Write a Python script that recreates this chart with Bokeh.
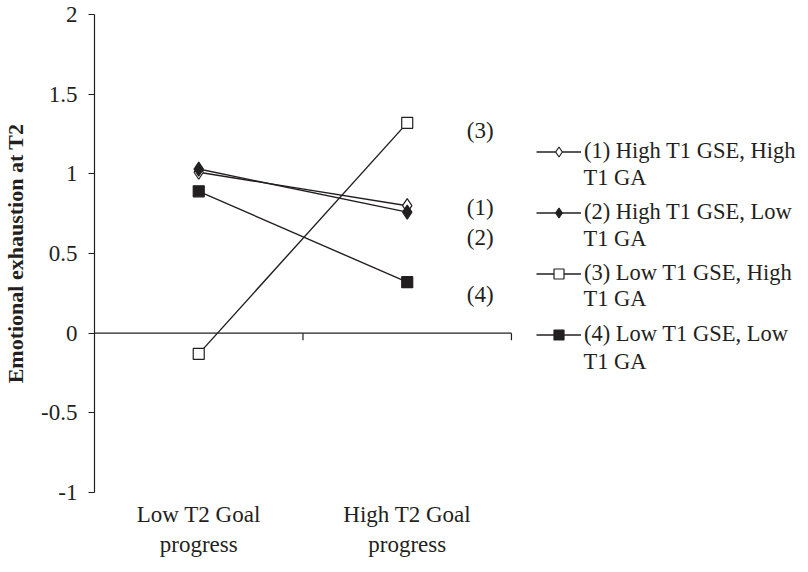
from bokeh.plotting import figure
from bokeh.models import Range1d, FixedTicker, Legend, LegendItem, ColumnDataSource
from bokeh.core.properties import value
from bokeh.embed import file_html
from bokeh.resources import INLINE

# ---- data ----
categories = ["Low T2 Goal\nprogress", "High T2 Goal\nprogress"]
cat_x = [0.5, 1.5]
series_names = ["(1) High T1 GSE, High", "(2) High T1 GSE, Low",
                "(3) Low T1 GSE, High", "(4) Low T1 GSE, Low"]
series_names_cont = ["T1 GA", "T1 GA", "T1 GA", "T1 GA"]
s1 = [1.01, 0.80]
s2 = [1.03, 0.76]
s3 = [-0.13, 1.32]
s4 = [0.89, 0.32]
end_labels = ["(3)", "(1)", "(2)", "(4)"]
end_label_y = [1.27, 0.79, 0.60, 0.24]
end_label_x = [1.85, 1.85, 1.85, 1.85]
y_ticks = [-1, -0.5, 0, 0.5, 1, 1.5, 2]
y_tick_labels = ["-1", "-0.5", "0", "0.5", "1", "1.5", "2"]
boundaries = [0, 1, 2]

INK = "#231f20"
FONT = "Liberation Serif"

p = figure(frame_width=708, frame_height=478, output_backend="svg", toolbar_location=None,
           x_range=Range1d(0, 3.396), y_range=Range1d(-1, 2),
           min_border_left=94, min_border_top=14, min_border_bottom=58, min_border_right=0)
p.outline_line_color = None
p.xgrid.visible = False
p.ygrid.visible = False
p.background_fill_color = "white"

# y axis
ya = p.yaxis[0]
ya.ticker = FixedTicker(ticks=y_ticks)
ya.major_label_overrides = {t: l for t, l in zip(y_ticks, y_tick_labels)}
ya.minor_tick_line_color = None
ya.major_tick_in = 0
ya.major_tick_out = 6
ya.axis_line_color = INK
ya.major_tick_line_color = INK
ya.axis_line_width = 1.2
ya.major_label_text_font = FONT
ya.major_label_text_font_size = "23px"
ya.major_label_text_color = INK
ya.major_label_standoff = 11
ya.axis_label = "Emotional exhaustion at T2"
ya.axis_label_text_font = FONT
ya.axis_label_text_font_style = "bold"
ya.axis_label_text_font_size = "22px"
ya.axis_label_text_color = INK
ya.axis_label_standoff = 10

# x axis: labels only; axis line drawn at zero
xa = p.xaxis[0]
xa.ticker = FixedTicker(ticks=cat_x)
xa.major_label_overrides = {x: c for x, c in zip(cat_x, categories)}
xa.axis_line_color = None
xa.major_tick_line_color = None
xa.minor_tick_line_color = None
xa.major_label_text_font = FONT
xa.major_label_text_font_size = "23px"
xa.major_label_text_color = INK
xa.major_label_standoff = 3

# horizontal axis line at zero with downward ticks at category boundaries
p.segment(x0=[boundaries[0]], y0=[0], x1=[boundaries[-1]], y1=[0], line_color=INK, line_width=1.2)
p.segment(x0=boundaries[1:], y0=[0, 0], x1=boundaries[1:], y1=[-0.045, -0.045],
          line_color=INK, line_width=1.2)

items = []
specs = [(s1, "diamond", "white", 14), (s2, "diamond", INK, 14),
         (s3, "square", "white", 11), (s4, "square", INK, 11)]
for name, (vals, marker, fill, size) in zip(series_names, specs):
    src = ColumnDataSource(dict(x=cat_x, y=vals))
    l = p.line("x", "y", source=src, line_color=INK, line_width=1.4)
    s = p.scatter("x", "y", source=src, marker=marker, size=size, fill_color=fill,
                  line_color=INK, line_width=1.2)
    items.append(LegendItem(label=name, renderers=[l, s]))

p.text(x=end_label_x, y=end_label_y, text=end_labels, text_font=value(FONT),
       text_font_size="23px", text_color=INK, text_align="center", text_baseline="middle")

legend = Legend(items=items, location=(442, 145), background_fill_alpha=0,
                border_line_color=None, label_text_font=FONT, label_text_font_size="22.5px",
                label_text_color=INK, glyph_width=45, glyph_height=25, spacing=35,
                label_standoff=3, padding=0, margin=0)
p.add_layout(legend, "center")

# second line of each legend entry
cont_x = [2.345] * 4
cont_y = [0.975, 0.595, 0.215, -0.18]
p.text(x=cont_x, y=cont_y, text=series_names_cont, text_font=value(FONT),
       text_font_size="22.5px", text_color=INK, text_align="left", text_baseline="middle")

open("out.html", "w").write(file_html(p, INLINE))
